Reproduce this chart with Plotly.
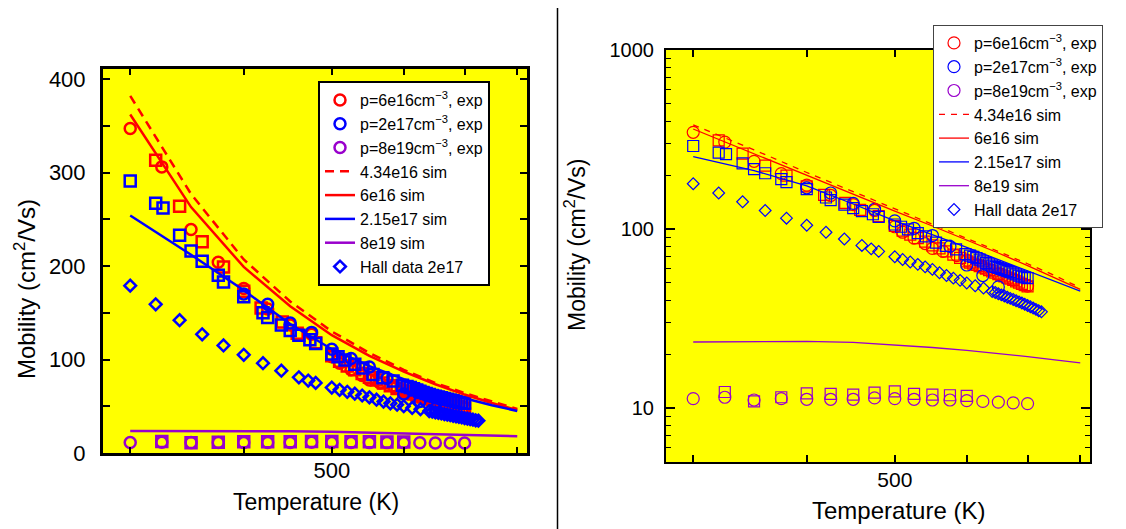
import math
import plotly.graph_objects as go

# ---------------- data ----------------
T_sim = [300, 350, 400, 450, 500, 550, 600, 650, 700, 750, 800]
mu_sim_434e16 = [382, 277, 207, 162, 130, 107, 89, 75, 64, 55, 47]
mu_sim_6e16 = [362, 263, 199, 157, 126, 104, 87, 73.5, 62.5, 53.5, 46]
mu_sim_215e17 = [254, 212, 174, 138, 111, 93, 79, 67.5, 58.5, 51, 45]
mu_sim_8e19 = [23.4, 23.6, 23.6, 23.3, 22.6, 21.8, 21.0, 20.2, 19.4, 18.6, 17.9]

T_circ_6e16 = [300, 325, 350, 375, 400, 425, 450, 475, 500, 510, 525, 540, 550, 565, 585, 600, 625, 650, 675, 700]
mu_circ_6e16 = [347, 306, 239, 204, 176, 154, 137, 127, 103, 96, 89, 83, 78, 75, 71, 67, 61, 56, 52, 48]

T_circ_2e17 = [400, 425, 450, 475, 500, 525, 550, 575, 600, 625, 650]
mu_circ_2e17 = [170, 159, 139, 129, 111, 101, 92, 80, 63, 55, 47.5]

T_circ_8e19 = [300, 325, 350, 375, 400, 425, 450, 475, 500, 525, 550, 575, 600, 625, 650, 675, 700]
mu_circ_8e19 = [11.3, 11.5, 11.1, 11.3, 11.2, 11.2, 11.2, 11.4, 11.3, 11.2, 11.1, 11.1, 11.0, 10.9, 10.8, 10.7, 10.6]

T_sq_6e16 = [320, 340, 360, 380, 400, 418, 441, 458, 480, 500, 510, 520, 530, 540, 550, 560, 570, 580, 590,
             600, 605, 610, 615, 620, 625, 630, 635, 640, 645, 650, 655, 660, 665, 670, 675, 680, 685, 690, 695, 700]
mu_sq_6e16 = [313, 264, 226, 199, 173, 155, 140, 128, 118, 104, 98, 93, 89, 85, 81, 78, 75, 72, 69,
              66, 65, 64, 63, 62, 61, 60, 59, 58, 57, 56, 55.2, 54.4, 53.6, 52.8, 52, 51, 50.2, 49.4, 48.6, 47.8]

T_sq_2e17 = [300, 320, 326, 340, 350, 360, 375, 380, 400, 420, 425, 440, 450, 460, 473, 480, 500, 508, 517, 530,
             541, 555, 569, 584, 598, 605, 610, 615, 620, 625, 630, 635, 640, 645, 650, 655, 660, 665, 670, 675,
             680, 685, 690, 695, 700]
mu_sq_2e17 = [291, 267, 262, 233, 216, 205, 190, 183, 167, 150, 145, 137, 131, 126, 121, 117, 106, 103, 99.5, 95,
              91, 84, 80.5, 77, 72.5, 71, 70, 68.8, 67.5, 66, 64.7, 63.6, 62.5, 61.5, 60.6, 59.8, 59, 58.2, 57.4, 56.6,
              55.8, 55, 54.3, 53.7, 53.2]

T_sq_8e19 = [325, 350, 375, 400, 425, 450, 475, 500, 525, 550, 575, 600]
mu_sq_8e19 = [12.3, 10.9, 11.5, 12.1, 12.0, 11.9, 12.2, 12.4, 12.0, 11.9, 11.8, 11.7]

T_hall = [300, 320, 340, 360, 380, 400, 420, 440, 460, 471, 480, 500, 510, 520, 530, 540, 550, 560, 570, 580,
          590, 600, 613, 626, 640, 645, 650, 655, 660, 665, 670, 675, 680, 685, 690, 695, 700, 705, 710, 715,
          720, 725]
mu_hall = [179, 159, 142, 127, 115, 105, 96, 88, 81, 77.5, 75, 70, 67.6, 65.5, 63.5, 61.5, 59.5, 57, 55, 53.2,
           51.7, 50, 48.2, 46.8, 44.8, 44.2, 43.5, 42.9, 42.3, 41.6, 41.0, 40.4, 39.8, 39.2, 38.6, 38.0, 37.4, 36.8,
           36.2, 35.6, 35.0, 34.5]

x_major_vals = [500]
x_major_text = ["500"]
x_minor_vals = [300, 400, 600, 700, 800]
y_lin_vals = [0, 100, 200, 300, 400]
y_lin_text = ["0", "100", "200", "300", "400"]
y_lin_minor = [50, 150, 250, 350]
y_log_vals = [10, 100, 1000]
y_log_text = ["10", "100", "1000"]
y_log_minor = [5, 6, 7, 8, 9, 20, 30, 40, 50, 60, 70, 80, 90, 200, 300, 400, 500, 600, 700, 800, 900]

names = ["p=6e16cm<sup>\u22123</sup>, exp", "p=2e17cm<sup>\u22123</sup>, exp", "p=8e19cm<sup>\u22123</sup>, exp",
         "4.34e16 sim", "6e16 sim", "2.15e17 sim", "8e19 sim", "Hall data 2e17"]
hidden_names = ["6e16 set 2", "2e17 set 2", "8e19 set 2"]

RED = "#FF0000"
BLUE = "#0000FF"
PURPLE = "#9900CC"
FONT = "Liberation Sans, Arial, sans-serif"

# page body has an 8 px margin: the figure is placed at (8, 8)
OX, OY = 8, 8
FW, FH = 1126 - OX, 529 - OY


def px(x):
    return (x - OX) / FW


def py(y):
    return 1 - (y - OY) / FH


fig = go.Figure()


def add_panel(xa, ya, leg, lw, msize, sqsize, dsize, linew, dash):
    def mk(T, mu, sym, color, size, name, rank=1000, show=False):
        fig.add_trace(go.Scatter(
            x=T, y=mu, mode="markers", xaxis=xa, yaxis=ya, legend=leg,
            name=name, showlegend=show, legendrank=rank,
            marker=dict(symbol=sym, size=size, color=color,
                        line=dict(color=color, width=lw))))

    def ln(T, mu, color, name, rank, d="solid"):
        fig.add_trace(go.Scatter(
            x=T, y=mu, mode="lines", xaxis=xa, yaxis=ya, legend=leg,
            name=name, showlegend=True, legendrank=rank,
            line=dict(color=color, width=linew, dash=d)))

    mk(T_sq_6e16, mu_sq_6e16, "square-open", RED, sqsize, hidden_names[0])
    mk(T_circ_6e16, mu_circ_6e16, "circle-open", RED, msize, names[0], 1, True)
    mk(T_sq_2e17, mu_sq_2e17, "square-open", BLUE, sqsize, hidden_names[1])
    mk(T_circ_2e17, mu_circ_2e17, "circle-open", BLUE, msize, names[1], 2, True)
    mk(T_sq_8e19, mu_sq_8e19, "square-open", PURPLE, sqsize, hidden_names[2])
    mk(T_circ_8e19, mu_circ_8e19, "circle-open", PURPLE, msize, names[2], 3, True)
    mk(T_hall, mu_hall, "diamond-open", BLUE, dsize, names[7], 8, True)
    ln(T_sim, mu_sim_434e16, RED, names[3], 4, dash)
    ln(T_sim, mu_sim_6e16, RED, names[4], 5)
    ln(T_sim, mu_sim_215e17, BLUE, names[5], 6)
    ln(T_sim, mu_sim_8e19, PURPLE, names[6], 7)


add_panel("x", "y", "legend", 2.5, 11, 11, 9, 2.5, "9px,6px")
add_panel("x2", "y2", "legend2", 1.2, 12, 11, 9, 1.3, "6px,6px")

xr = [math.log10(280), math.log10(820)]

common_axis = dict(showgrid=False, zeroline=False, showline=True, linecolor="black",
                   mirror="ticks", ticks="inside", tickcolor="black", automargin=False)

fig.update_layout(
    width=FW, height=FH, autosize=False,
    margin=dict(l=0, r=0, t=0, b=0, autoexpand=False),
    paper_bgcolor="white", plot_bgcolor="#FFFF00",
    font=dict(family=FONT, color="black"),
    xaxis=dict(domain=[px(103), px(527)], anchor="y", type="log", range=xr,
               tickvals=x_major_vals, ticktext=x_major_text, ticklen=6, tickwidth=2,
               minor=dict(ticks="inside", ticklen=6, tickwidth=2, tickcolor="black",
                          tickvals=x_minor_vals, showgrid=False),
               linewidth=3, ticklabelstandoff=-4,
               tickfont=dict(family=FONT, size=22, color="black"), **common_axis),
    yaxis=dict(domain=[py(453), py(69)], anchor="x", range=[0, 410.7],
               tickvals=y_lin_vals, ticktext=y_lin_text, ticklen=7, tickwidth=2,
               minor=dict(ticks="inside", ticklen=7, tickwidth=2, tickcolor="black",
                          tickvals=y_lin_minor, showgrid=False),
               linewidth=3, ticklabelstandoff=10,
               tickfont=dict(family=FONT, size=22, color="black"), **common_axis),
    xaxis2=dict(domain=[px(666), px(1090)], anchor="y2", type="log", range=xr,
                tickvals=x_major_vals, ticktext=x_major_text, ticklen=7, tickwidth=1.5,
                minor=dict(ticks="inside", ticklen=7, tickwidth=1.5, tickcolor="black",
                           tickvals=x_minor_vals, showgrid=False),
                linewidth=2, ticklabelstandoff=-2,
                tickfont=dict(family=FONT, size=21, color="black"), **common_axis),
    yaxis2=dict(domain=[py(462), py(50)], anchor="x2", type="log",
                range=[math.log10(5), 3], tickvals=y_log_vals, ticktext=y_log_text,
                ticklen=9, tickwidth=1.5, linewidth=2, ticklabelstandoff=6,
                minor=dict(ticks="inside", ticklen=5, tickwidth=1.2, tickcolor="black",
                           tickvals=y_log_minor, showgrid=False),
                tickfont=dict(family=FONT, size=20, color="black"), **common_axis),
    legend=dict(x=px(318), y=py(81), xanchor="left", yanchor="top",
                bgcolor="white", bordercolor="black", borderwidth=2,
                font=dict(family=FONT, size=16, color="black"), tracegroupgap=0),
    legend2=dict(x=px(933), y=py(25), xanchor="left", yanchor="top",
                 bgcolor="white", bordercolor="#444444", borderwidth=1,
                 font=dict(family=FONT, size=16, color="black"), tracegroupgap=0),
    shapes=[dict(type="line", xref="paper", yref="paper", x0=px(557.5), x1=px(557.5),
                 y0=0, y1=1, line=dict(color="black", width=1.5))],
    annotations=[
        dict(text="Temperature (K)", xref="paper", yref="paper", x=px(316), y=py(502),
             xanchor="center", yanchor="middle", showarrow=False,
             font=dict(family=FONT, size=23, color="black")),
        dict(text="Temperature (K)", xref="paper", yref="paper", x=px(898), y=py(510),
             xanchor="center", yanchor="middle", showarrow=False,
             font=dict(family=FONT, size=24, color="black")),
        dict(text="Mobility (cm<sup>2</sup>/Vs)", xref="paper", yref="paper", x=px(25), y=py(289),
             xanchor="center", yanchor="middle", showarrow=False, textangle=-90,
             font=dict(family=FONT, size=24, color="black")),
        dict(text="Mobility (cm<sup>2</sup>/Vs)", xref="paper", yref="paper", x=px(575), y=py(245),
             xanchor="center", yanchor="middle", showarrow=False, textangle=-90,
             font=dict(family=FONT, size=23, color="black")),
    ],
)

fig.write_html("out.html")
